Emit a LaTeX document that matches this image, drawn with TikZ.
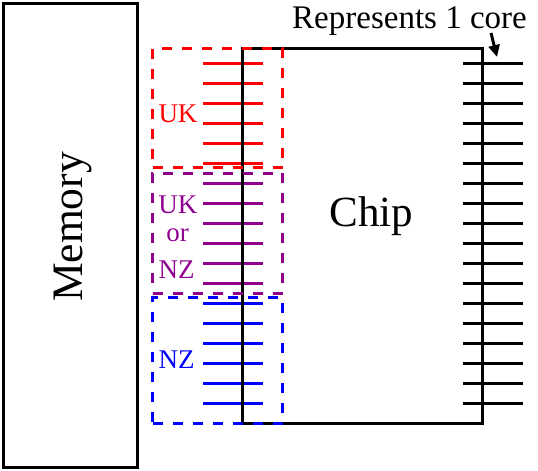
\documentclass[tikz,border=0pt]{standalone}
\usepackage{fontspec}
\setmainfont{Liberation Serif}
\newfontfamily\timesfont{Liberation Serif}
\usetikzlibrary{arrows.meta}
\definecolor{xpurple}{RGB}{144,0,144}
\tikzset{
  lw/.style={line width=3bp},
  box/.style={draw, lw, inner sep=0pt, outer sep=0pt},
  zone/.style={draw=#1, lw, dash pattern=on 10bp off 10bp, inner sep=0pt, outer sep=0pt},
  lbl/.style={text=#1, font=\timesfont\fontsize{27bp}{32bp}\selectfont, inner sep=0pt, anchor=base},
  coreline/.style={draw=#1, lw},
}
\begin{document}
\begin{tikzpicture}[x=1bp, y=-1bp]
\useasboundingbox (0,0) rectangle (538,471);

% memory
\node[box, minimum width=134bp, minimum height=464bp] (memory) at (70.3,235.3) {};
\node[font=\timesfont\fontsize{43.5bp}{50bp}\selectfont, rotate=90, anchor=base, inner sep=0pt] (memlabel) at (82,227) {Memory};

% core lines
\foreach \k in {0,...,5} {
  \coordinate (r\k a) at (203.3,{63.3+20*\k});
  \coordinate (r\k b) at (262.7,{63.3+20*\k});
  \draw[coreline=red] (r\k a) -- (r\k b);
  \coordinate (p\k a) at (203.3,{183.3+20*\k});
  \coordinate (p\k b) at (262.7,{183.3+20*\k});
  \draw[coreline=xpurple] (p\k a) -- (p\k b);
  \coordinate (b\k a) at (203.3,{303.3+20*\k});
  \coordinate (b\k b) at (262.7,{303.3+20*\k});
  \draw[coreline=blue] (b\k a) -- (b\k b);
}
\foreach \k in {0,...,17} {
  \coordinate (k\k a) at (463.3,{63.3+20*\k});
  \coordinate (k\k b) at (522.7,{63.3+20*\k});
  \draw[coreline=black] (k\k a) -- (k\k b);
}

% chip
\node[box, minimum width=240.3bp, minimum height=375bp] (chip) at (362.15,235.8) {};
\node[font=\timesfont\fontsize{43bp}{50bp}\selectfont, anchor=base, inner sep=0pt] (chiplabel) at (371.5,226.7) {Chip};

% zones
\node[zone=red, minimum width=130bp, minimum height=119.4bp] (ukzone) at (217.7,108) {};
\node[zone=xpurple, minimum width=130bp, minimum height=120bp] (eitherzone) at (217.7,233.3) {};
\node[zone=blue, minimum width=130bp, minimum height=125.6bp] (nzzone) at (217.7,360.5) {};

\node[lbl=red] (uk) at (178,122.7) {UK};
\node[lbl=xpurple] (uk2) at (177.8,213.3) {UK};
\node[lbl=xpurple] (or2) at (177.5,241.3) {or};
\node[lbl=xpurple] (nz2) at (176.5,278.3) {NZ};
\node[lbl=blue] (nz) at (176.5,368.3) {NZ};

% annotation
\node[font=\timesfont\fontsize{33bp}{38bp}\selectfont, anchor=base west, inner sep=0pt] (rep) at (292,28.3) {Represents 1 core};
\coordinate (arrowstart) at (491,33);
\coordinate (arrowend) at (497,57);
\draw[lw, -{Triangle[length=12bp, width=11bp]}] (arrowstart) -- (arrowend);
\end{tikzpicture}
\end{document}
